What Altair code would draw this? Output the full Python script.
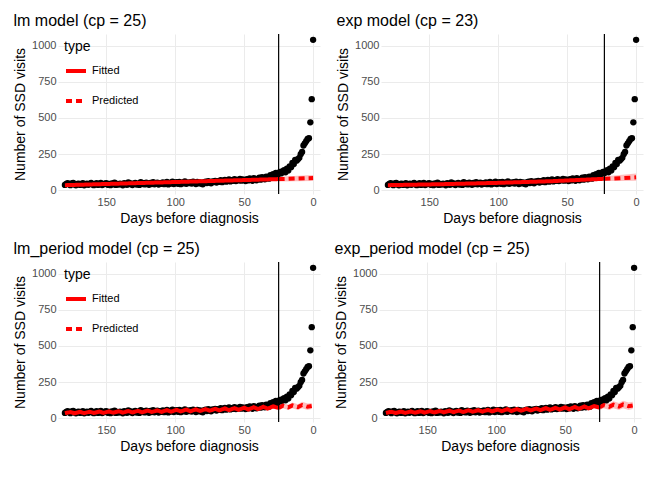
import altair as alt
import pandas as pd

# observed visits, days 180 -> 0
obs_days = list(range(180, -1, -1))
obs_visits = [
    38, 45, 50, 42, 36, 48, 52, 40, 35, 44,
    46, 38, 42, 50, 35, 41, 47, 39, 44, 52,
    40, 36, 45, 49, 38, 43, 51, 37, 42, 46,
    50, 39, 44, 36, 48, 41, 53, 38, 45, 40,
    47, 42, 35, 50, 44, 39, 55, 43, 48, 37,
    45, 52, 40, 47, 38, 56, 44, 49, 41, 53,
    46, 39, 51, 44, 57, 42, 48, 53, 40, 50,
    45, 55, 43, 49, 58, 41, 52, 47, 60, 44,
    51, 56, 46, 59, 43, 53, 49, 62, 45, 54,
    50, 57, 47, 61, 52, 44, 58, 49, 55, 46,
    42, 56, 60, 51, 64, 55, 49, 62, 58, 66,
    54, 63, 59, 70, 57, 65, 72, 60, 68, 75,
    62, 71, 66, 78, 64, 73, 69, 80, 67, 75,
    71, 64, 78, 69, 82, 73, 66, 85, 76, 70,
    79, 88, 74, 92, 83, 77, 95, 86, 81, 105,
    98, 112, 94, 120, 105, 115, 128, 118, 132, 140,
    125, 150, 138, 165, 160, 190, 182, 210, 205, 215,
    225, 250, 265, 310, 325, 340, 355, 360, 470, 630,
    1040,
]

models = ["lm", "exp", "lm_period", "exp_period"]
cps = [25, 23, 25, 25]

# fitted / predicted curves (knot days and values)
lm_fit_days = [180, 25]
lm_fit_vals = [36, 78]
lm_pred_days = [25, 0]
lm_pred_vals = [78, 85]
lm_pred_lo = [62, 64]
lm_pred_hi = [94, 106]

exp_fit_days = [180, 140, 100, 60, 23]
exp_fit_vals = [36, 43, 52, 64, 80]
exp_pred_days = [23, 12, 0]
exp_pred_vals = [80, 84, 90]
exp_pred_lo = [64, 64, 66]
exp_pred_hi = [96, 106, 116]

per_fit_days = [180, 176, 173, 169, 166, 162, 159, 155, 152, 148, 145, 141, 138, 134, 131, 127, 124, 120,
                117, 113, 110, 106, 103, 99, 96, 92, 89, 85, 82, 78, 75, 71, 68, 64, 61, 57, 54, 50, 47,
                43, 40, 36, 33, 29, 25]
per_fit_vals = [36, 44, 35, 45, 36, 46, 37, 47, 38, 48, 39, 49, 40, 51, 41, 52, 42, 54, 44, 55, 45, 57, 46,
                59, 48, 61, 49, 62, 51, 64, 53, 66, 55, 69, 57, 71, 59, 74, 61, 77, 64, 80, 67, 83, 72]
per_pred_days = [25, 22, 18, 15, 11, 8, 4, 1]
per_pred_vals = [72, 88, 76, 90, 78, 92, 80, 85]
per_pred_lo = [58, 70, 58, 70, 58, 70, 58, 64]
per_pred_hi = [88, 106, 94, 110, 98, 114, 102, 106]

curves = {
    "lm": (lm_fit_days, lm_fit_vals, lm_pred_days, lm_pred_vals, lm_pred_lo, lm_pred_hi),
    "exp": (exp_fit_days, exp_fit_vals, exp_pred_days, exp_pred_vals, exp_pred_lo, exp_pred_hi),
    "lm_period": (per_fit_days, per_fit_vals, per_pred_days, per_pred_vals, per_pred_lo, per_pred_hi),
    "exp_period": (per_fit_days, [v + 2 for v in per_fit_vals], per_pred_days,
                   [v + 4 for v in per_pred_vals], per_pred_lo, [v + 8 for v in per_pred_hi]),
}

obs = pd.DataFrame({"day": obs_days, "visits": obs_visits})

xs = alt.Scale(domain=[-5, 185], reverse=True, nice=False)
ys = alt.Scale(domain=[-25, 1080], nice=False)
xax = alt.Axis(values=[0, 50, 100, 150], title="Days before diagnosis")
yax = alt.Axis(values=[0, 250, 500, 750, 1000], format="d", title="Number of SSD visits")


def panel(model, cp):
    fd, fv, pd_, pv, plo, phi = curves[model]
    lines = pd.DataFrame({
        "day": fd + pd_,
        "value": fv + pv,
        "type": ["Fitted"] * len(fd) + ["Predicted"] * len(pd_),
    })
    band = pd.DataFrame({"day": pd_, "lo": plo, "hi": phi})
    x = alt.X("day:Q", scale=xs, axis=xax)
    area = alt.Chart(band).mark_area(color="red", opacity=0.25).encode(
        x=x, y=alt.Y("lo:Q", scale=ys, axis=yax), y2="hi:Q")
    pts = alt.Chart(obs).mark_circle(color="black", size=40, opacity=1).encode(
        x=x, y=alt.Y("visits:Q", scale=ys, axis=yax))
    ln = alt.Chart(lines).mark_line(strokeWidth=4).encode(
        x=x, y=alt.Y("value:Q", scale=ys, axis=yax),
        color=alt.Color("type:N", scale=alt.Scale(domain=["Fitted", "Predicted"], range=["red", "red"]),
                        legend=alt.Legend(orient="top-left", title="type", symbolStrokeWidth=4,
                                          symbolSize=400, labelFontSize=11, titleFontSize=14,
                                          titleFontWeight="normal", rowPadding=10, offset=6)),
        strokeDash=alt.StrokeDash("type:N", scale=alt.Scale(domain=["Fitted", "Predicted"],
                                                            range=[[1, 0], [6, 4]])),
    )
    rule = alt.Chart(pd.DataFrame({"cp": [cp]})).mark_rule(color="black", strokeWidth=1.2).encode(
        x=alt.X("cp:Q", scale=xs, axis=xax))
    return alt.layer(area, pts, ln, rule).properties(
        width=262, height=160,
        title=alt.Title(f"{model} model (cp = {cp})", anchor="start", fontSize=16, fontWeight="normal"),
    )


p = [panel(m, c) for m, c in zip(models, cps)]
chart = alt.vconcat(
    alt.hconcat(p[0], p[1], spacing=14),
    alt.hconcat(p[2], p[3], spacing=14),
    spacing=16,
).resolve_legend(color="independent", strokeDash="independent").configure_view(stroke=None).configure_axis(
    domain=False, ticks=False, gridColor="#ebebeb", labelColor="#4d4d4d", labelFontSize=11,
    titleFontSize=14, titleFontWeight="normal", titleColor="black", labelFont="Liberation Sans",
    titleFont="Liberation Sans",
).configure_legend(labelFont="Liberation Sans", titleFont="Liberation Sans").configure_title(
    font="Liberation Sans")

chart.save("out.html", embed_options={"renderer": "svg", "actions": False})
